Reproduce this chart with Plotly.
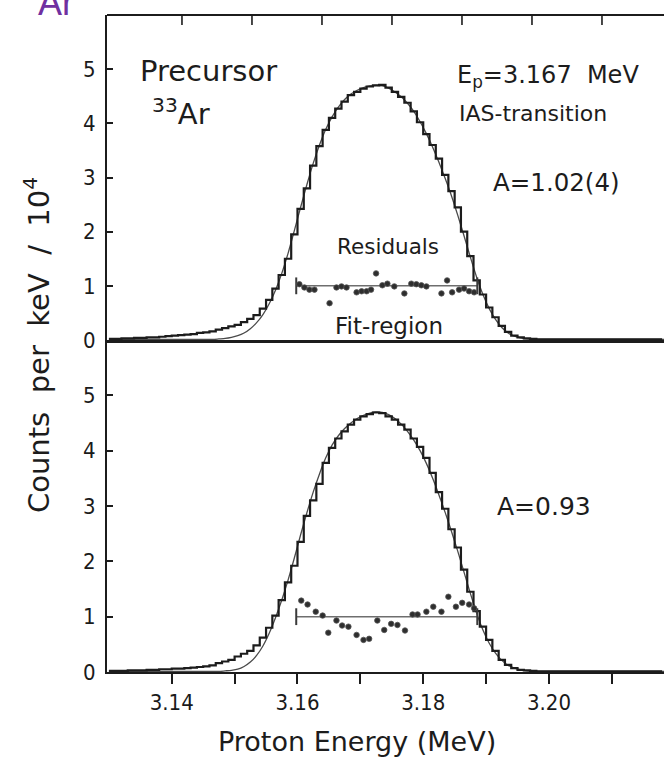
import plotly.graph_objects as go

# ---------------- data ----------------
bin_start = 3.130      # MeV, left edge of first histogram bin
bin_width = 0.001      # MeV

hist_top = [
    0.02, 0.02, 0.03, 0.03, 0.04, 0.04, 0.05, 0.05, 0.06, 0.07,
    0.08, 0.09, 0.10, 0.11, 0.13, 0.14, 0.16, 0.19, 0.22, 0.25,
    0.28, 0.33, 0.39, 0.46, 0.58, 0.74, 0.95, 1.20, 1.50, 1.95,
    2.42, 2.80, 3.22, 3.58, 3.88, 4.10, 4.27, 4.40, 4.52, 4.58,
    4.64, 4.68, 4.70, 4.71, 4.66, 4.58, 4.49, 4.38, 4.22, 4.02,
    3.80, 3.60, 3.35, 3.05, 2.75, 2.45, 2.00, 1.55, 1.10, 0.84,
    0.60, 0.42, 0.26, 0.15, 0.08, 0.05, 0.03, 0.02, 0.01, 0.01,
    0.01, 0.01, 0.01, 0.01, 0.01, 0.01, 0.01, 0.01, 0.01, 0.01,
    0.01, 0.01, 0.01, 0.01, 0.01, 0.01, 0.01, 0.01, 0.01,
]
fit_top = [
    0.01, 0.01, 0.01, 0.01, 0.01, 0.01, 0.01, 0.01, 0.01, 0.01,
    0.01, 0.01, 0.01, 0.01, 0.01, 0.01, 0.01, 0.02, 0.03, 0.05,
    0.08, 0.13, 0.21, 0.32, 0.47, 0.67, 0.92, 1.23, 1.60, 2.02,
    2.45, 2.87, 3.26, 3.60, 3.89, 4.12, 4.30, 4.44, 4.54, 4.61,
    4.66, 4.69, 4.70, 4.69, 4.65, 4.58, 4.49, 4.37, 4.22, 4.03,
    3.81, 3.56, 3.28, 2.98, 2.66, 2.30, 1.92, 1.53, 1.16, 0.84,
    0.58, 0.38, 0.23, 0.13, 0.07, 0.04, 0.02, 0.01, 0.01, 0.01,
    0.01, 0.01, 0.01, 0.01, 0.01, 0.01, 0.01, 0.01, 0.01, 0.01,
    0.01, 0.01, 0.01, 0.01, 0.01, 0.01, 0.01, 0.01, 0.01,
]
hist_bot = [
    0.02, 0.02, 0.02, 0.03, 0.03, 0.03, 0.04, 0.04, 0.05, 0.05,
    0.06, 0.06, 0.07, 0.08, 0.09, 0.10, 0.12, 0.16, 0.19, 0.22,
    0.28, 0.33, 0.38, 0.48, 0.62, 0.80, 1.02, 1.30, 1.62, 1.92,
    2.35, 2.82, 3.10, 3.40, 3.78, 4.05, 4.22, 4.35, 4.47, 4.56,
    4.62, 4.66, 4.69, 4.68, 4.62, 4.56, 4.47, 4.38, 4.22, 4.07,
    3.87, 3.60, 3.25, 2.95, 2.58, 2.25, 1.85, 1.45, 1.10, 0.82,
    0.58, 0.38, 0.22, 0.13, 0.07, 0.04, 0.03, 0.02, 0.01, 0.01,
    0.01, 0.01, 0.01, 0.01, 0.01, 0.01, 0.01, 0.01, 0.01, 0.01,
    0.01, 0.01, 0.01, 0.01, 0.01, 0.01, 0.01, 0.01, 0.01,
]
fit_bot = [
    0.01, 0.01, 0.01, 0.01, 0.01, 0.01, 0.01, 0.01, 0.01, 0.01,
    0.01, 0.01, 0.01, 0.01, 0.01, 0.01, 0.01, 0.01, 0.02, 0.03,
    0.05, 0.10, 0.18, 0.30, 0.47, 0.70, 0.98, 1.30, 1.66, 2.06,
    2.48, 2.88, 3.25, 3.58, 3.87, 4.10, 4.27, 4.40, 4.50, 4.58,
    4.64, 4.68, 4.70, 4.69, 4.65, 4.58, 4.48, 4.35, 4.19, 4.00,
    3.77, 3.50, 3.20, 2.88, 2.54, 2.18, 1.80, 1.42, 1.06, 0.76,
    0.52, 0.34, 0.21, 0.12, 0.07, 0.04, 0.02, 0.01, 0.01, 0.01,
    0.01, 0.01, 0.01, 0.01, 0.01, 0.01, 0.01, 0.01, 0.01, 0.01,
    0.01, 0.01, 0.01, 0.01, 0.01, 0.01, 0.01, 0.01, 0.01,
]

res_top_x = [3.1603, 3.1611, 3.1619, 3.1627, 3.1651, 3.1662, 3.1670, 3.1678,
             3.1694, 3.1702, 3.1710, 3.1717, 3.1725, 3.1735, 3.1743, 3.1754,
             3.1770, 3.1781, 3.1789, 3.1797, 3.1805, 3.1829, 3.1838, 3.1846,
             3.1857, 3.1865, 3.1873, 3.1881]
res_top_y = [1.03, 0.97, 0.93, 0.93, 0.68, 0.97, 0.99, 0.97,
             0.88, 0.90, 0.90, 0.93, 1.23, 1.01, 1.04, 0.99,
             0.86, 1.04, 1.03, 1.01, 0.99, 0.86, 1.10, 0.88,
             0.93, 0.95, 0.90, 0.88]

res_bot_x = [3.1606, 3.1616, 3.1629, 3.1640, 3.1649, 3.1662, 3.1671, 3.1681,
             3.1694, 3.1705, 3.1714, 3.1727, 3.1738, 3.1749, 3.1759, 3.1771,
             3.1783, 3.1791, 3.1805, 3.1816, 3.1829, 3.1840, 3.1852, 3.1862,
             3.1873, 3.1881]
res_bot_y = [1.29, 1.22, 1.09, 1.02, 0.71, 0.93, 0.84, 0.82,
             0.67, 0.58, 0.60, 0.93, 0.76, 0.87, 0.85, 0.75,
             1.04, 1.04, 1.09, 1.18, 1.09, 1.36, 1.18, 1.25,
             1.22, 1.15]

fit_region = [3.1598, 3.1886]
fit_region_level = [1.0, 1.0]

x_tick_vals = [3.14, 3.15, 3.16, 3.17, 3.18, 3.19, 3.20, 3.21]
x_tick_text = ["3.14", " ", "3.16", " ", "3.18", " ", "3.20", " "]
y_tick_vals = [0, 1, 2, 3, 4, 5]
top_tick_vals = [0, 1, 2, 3, 4, 5, 6]   # top-frame tick scale (unlabelled)
top_tick_range = [-1.071, 6.886]

# ---------------- figure ----------------
edges = [round(bin_start + bin_width * i, 4) for i in range(len(hist_top))]
centers = [e + bin_width / 2 for e in edges]

INK = "#1c1c1c"
FONT = "DejaVu Sans"
TICKFONT = "DejaVu Sans Condensed, DejaVu Sans"

fig = go.Figure()

panels = [("y2", "x2", hist_top, fit_top, res_top_x, res_top_y),
          ("y", "x", hist_bot, fit_bot, res_bot_x, res_bot_y)]
for yref, xref, hist, fit, rx, ry in panels:
    fig.add_trace(go.Scatter(x=centers, y=fit, mode="lines", xaxis=xref, yaxis=yref,
                             line=dict(color="#4a4a4a", width=1.3, shape="spline", smoothing=0.6),
                             showlegend=False, hoverinfo="skip"))
    fig.add_trace(go.Scatter(x=edges, y=hist, mode="lines", xaxis=xref, yaxis=yref,
                             line=dict(color=INK, width=2.2, shape="hv"),
                             showlegend=False))
    fig.add_trace(go.Scatter(x=fit_region, y=fit_region_level, mode="lines+markers",
                             xaxis=xref, yaxis=yref,
                             line=dict(color="#6e6e6e", width=1.5),
                             marker=dict(symbol="line-ns", size=12,
                                         line=dict(color="#3a3a3a", width=2)),
                             showlegend=False))
    fig.add_trace(go.Scatter(x=rx, y=ry, mode="markers", xaxis=xref, yaxis=yref,
                             marker=dict(color="#2e2e2e", size=5.5,
                                         line=dict(color="#555", width=0.8)),
                             showlegend=False))

W, H = 664, 761
L, R, T, B = 107, 0, 15, 89
PW = W - L - R
PH = H - T - B
split = (672 - 340) / PH

xr = [3.1297, 3.2183]
tickfont = dict(family=TICKFONT, size=22, color="#1a1a1a")

fig.update_layout(
    width=W, height=H,
    margin=dict(l=L, r=R, t=T, b=B),
    paper_bgcolor="white", plot_bgcolor="white",
    font=dict(family=FONT, color=INK),
    xaxis=dict(domain=[0, 1], anchor="y", range=xr, showgrid=False, zeroline=False,
               showline=True, linecolor=INK, linewidth=2,
               ticks="outside", ticklen=10, tickwidth=1.5, tickcolor=INK,
               tickvals=x_tick_vals, ticktext=x_tick_text, tickfont=tickfont,
               ticklabelstandoff=0),
    xaxis2=dict(domain=[0, 1], anchor="y2", range=xr, matches="x", showgrid=False,
                zeroline=False, showline=True, linecolor=INK, linewidth=2.5,
                showticklabels=False, ticks=""),
    yaxis=dict(domain=[0, split], range=[0, 6], showgrid=False, zeroline=False,
               showline=True, linecolor=INK, linewidth=2,
               ticks="inside", ticklen=6, tickwidth=1.5, tickcolor=INK,
               tickvals=y_tick_vals, tickfont=tickfont, ticklabelstandoff=5),
    yaxis2=dict(domain=[split, 1], range=[0, 6], showgrid=False, zeroline=False,
                showline=True, linecolor=INK, linewidth=2,
                ticks="inside", ticklen=6, tickwidth=1.5, tickcolor=INK,
                tickvals=y_tick_vals, tickfont=tickfont, ticklabelstandoff=5),
)

# top frame line and its inward ticks
fig.add_shape(type="line", xref="paper", yref="paper", x0=0, x1=1, y0=1, y1=1,
              line=dict(color=INK, width=2))
span = top_tick_range[1] - top_tick_range[0]
for tv in top_tick_vals:
    xp = (tv - top_tick_range[0]) / span
    fig.add_shape(type="line", xref="paper", yref="paper", x0=xp, x1=xp,
                  y0=1, y1=1 - 10 / PH, line=dict(color=INK, width=1.6))


def px(xp):
    return (xp - L) / PW


def py(yp):
    return (H - B - yp) / PH


def note(text, x, y, size, xanchor="left", color=INK, **kw):
    fig.add_annotation(text=text, x=px(x), y=py(y), xref="paper", yref="paper",
                       xanchor=xanchor, yanchor="middle", showarrow=False,
                       font=dict(family=kw.pop("family", FONT), size=size, color=color), **kw)


note("Precursor", 138, 71, 29)
note("<sup>33</sup>Ar", 150, 112, 29)
note("E<sub>p</sub>=3.167  MeV", 455, 76, 24)
note("IAS-transition", 457, 113, 22)
note("A=1.02(4)", 491, 182, 24.5)
note("Residuals", 388, 246, 21.5, xanchor="center")
note("Fit-region", 389, 326, 23, xanchor="center")
note("A=0.93", 495, 506, 25)
note("Proton Energy (MeV)", 357, 742, 27, xanchor="center")
note("Counts  per  keV  /  10<sup>4</sup>", 37, 345, 29, xanchor="center", textangle=-90)
note("<sup>33</sup>Ar", 76, 0, 36, xanchor="right", color="#7030A0",
     family="Liberation Sans")

fig.write_html("out.html", config={"displayModeBar": False},
               post_script="document.body.style.margin='0';")
